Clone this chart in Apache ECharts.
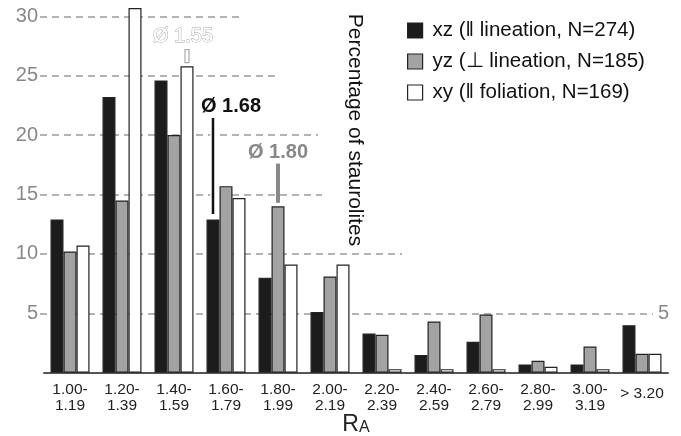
<!DOCTYPE html>
<html>
<head>
<meta charset="utf-8">
<script src="https://cdn.jsdelivr.net/npm/echarts@6/dist/echarts.min.js"></script>
<style>
html, body { margin: 0; padding: 0; background: #fff; }
#chart { width: 681px; height: 436px; }
</style>
</head>
<body>
<div id="chart"></div>
<script>
// aspect ratio classes
var categories = ['1.00-\n1.19', '1.20-\n1.39', '1.40-\n1.59', '1.60-\n1.79', '1.80-\n1.99', '2.00-\n2.19',
    '2.20-\n2.39', '2.40-\n2.59', '2.60-\n2.79', '2.80-\n2.99', '3.00-\n3.19', '> 3.20'];
var seriesNames = ['xz (\u2016 lineation, N=274)', 'yz (\u22a5 lineation, N=185)', 'xy (\u2016 foliation, N=169)'];
var xz = [12.9, 23.2, 24.6, 12.9, 8.0, 5.1, 3.3, 1.5, 2.6, 0.7, 0.7, 4.0];
var yz = [10.2, 14.5, 20.0, 15.7, 14.0, 8.1, 3.2, 4.3, 4.9, 1.0, 2.2, 1.6];
var xy = [10.7, 30.7, 25.8, 14.7, 9.1, 9.1, 0.3, 0.3, 0.3, 0.5, 0.3, 1.6];
var yTicks = [5, 10, 15, 20, 25, 30];
// mean markers: category index, series index, from, to, label
var means = [
    [2, 2, 26.1, 27.2, '\u00d8 1.55'],
    [3, 0, 13.3, 21.5, '\u00d8 1.68'],
    [4, 1, 14.3, 17.6, '\u00d8 1.80']
];

var FONT = '"Liberation Sans", Arial, sans-serif';
var barW = 13;
var gridEnds = [653, 402, 322, 318, 275, 240];   // where each dashed line stops (px)
var markStyles = [
    {rect: {fill: '#111', stroke: '#fff', lineWidth: 1.5}, text: {fill: '#111', fontWeight: 'bold'}, dx: 18, dy: -11},
    {rect: {fill: '#888', stroke: null, lineWidth: 0}, text: {fill: '#888', fontWeight: 'bold'}, dx: 0, dy: -11},
    {rect: {fill: '#fff', stroke: '#aaa', lineWidth: 1.2}, text: {fill: '#fff', stroke: '#aaa', lineWidth: 1, fontWeight: 'normal'}, dx: -4, dy: -13}
];

var chart = echarts.init(document.getElementById('chart'));

function barSeries(name, data, color, extra) {
    var s = {
        name: name,
        type: 'bar',
        data: data,
        barWidth: barW,
        barGap: '0%',
        animation: false,
        itemStyle: {color: color, borderColor: '#222', borderWidth: 1.2}
    };
    if (extra) s.markLine = extra;
    return s;
}

var gridLines = {
    silent: true,
    symbol: 'none',
    z: 1,
    animation: false,
    lineStyle: {color: '#9a9a9a', type: [7, 5], width: 1.5},
    label: {show: false},
    data: yTicks.map(function (v, i) {
        var lbl = v === 5 ? {show: true, position: 'end', formatter: '5', color: '#888',
            fontSize: 20, fontFamily: FONT, distance: 5} : {show: false};
        return [{coord: [0, v], x: 40, label: lbl}, {coord: [0, v], x: gridEnds[i], label: lbl}];
    })
};

var option = {
    backgroundColor: '#fff',
    textStyle: {fontFamily: FONT},
    grid: {left: 44, right: 13, top: 4.4, bottom: 63.3, outerBoundsMode: 'none', containLabel: false},
    legend: {
        orient: 'vertical',
        left: 407,
        top: 20,
        padding: 0,
        itemWidth: 15,
        itemHeight: 15,
        itemGap: 10,
        icon: 'rect',
        data: seriesNames,
        itemStyle: {borderColor: '#222', borderWidth: 1.2},
        textStyle: {fontSize: 20.5, color: '#111', fontFamily: FONT, padding: [0, 0, 0, 5]}
    },
    xAxis: {
        type: 'category',
        data: categories,
        axisLine: {lineStyle: {color: '#555', width: 2}},
        axisTick: {show: false},
        axisLabel: {
            interval: 0, fontSize: 15.5, lineHeight: 16, color: '#222', margin: 9, fontFamily: FONT,
            formatter: function (v) { return v.indexOf('\n') < 0 ? '{m|' + v + '}' : v; },
            rich: {m: {fontSize: 15.5, color: '#222', padding: [8, 0, 0, 0], fontFamily: FONT}}
        },
        name: '{r|R}{a|A}',
        nameLocation: 'middle',
        nameGap: 40,
        nameMoveOverlap: false,
        nameTextStyle: {
            rich: {
                r: {fontSize: 23, color: '#222', fontFamily: FONT},
                a: {fontSize: 16, color: '#222', fontFamily: FONT, padding: [7, 0, 0, 0]}
            }
        }
    },
    yAxis: {
        type: 'value',
        min: 0,
        max: 31,
        axisLine: {show: false},
        axisTick: {show: false},
        splitLine: {show: false},
        axisLabel: {customValues: yTicks, fontSize: 20, color: '#888', margin: 6, fontFamily: FONT}
    },
    graphic: [{
        type: 'text',
        x: 355,
        y: 130,
        rotation: -Math.PI / 2,
        style: {text: 'Percentage of staurolites', fontSize: 21, fill: '#111', fontFamily: FONT,
            align: 'center', verticalAlign: 'middle'}
    }],
    series: [
        barSeries(seriesNames[0], xz, '#1c1c1c', gridLines),
        barSeries(seriesNames[1], yz, '#a3a3a3'),
        barSeries(seriesNames[2], xy, '#ffffff'),
        {
            type: 'custom',
            data: means,
            z: 5,
            animation: false,
            silent: true,
            encode: {x: 0, y: [2, 3]},
            renderItem: function (params, api) {
                var s = api.value(1);
                var st = markStyles[s];
                var lo = api.coord([api.value(0), api.value(2)]);
                var hi = api.coord([api.value(0), api.value(3)]);
                var x = lo[0] + (s - 1) * barW;
                return {
                    type: 'group',
                    children: [{
                        type: 'rect',
                        shape: {x: x - 2, y: hi[1], width: 4, height: lo[1] - hi[1]},
                        style: st.rect
                    }, {
                        type: 'text',
                        x: x + st.dx,
                        y: hi[1] + st.dy,
                        style: echarts.util.extend({
                            text: means[params.dataIndex][4],
                            fontSize: 20,
                            fontFamily: FONT,
                            align: 'center',
                            verticalAlign: 'middle'
                        }, st.text)
                    }]
                };
            }
        }
    ]
};

chart.setOption(option);
</script>
</body>
</html>
